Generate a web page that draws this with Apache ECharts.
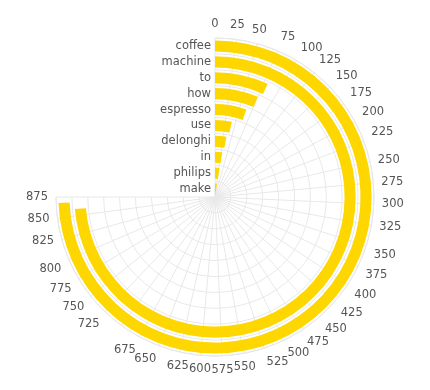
<!DOCTYPE html>
<html>
<head>
<meta charset="utf-8">
<script src="https://cdn.jsdelivr.net/npm/echarts@6/dist/echarts.min.js"></script>
<style>html,body{margin:0;padding:0;background:#fff;}#c{width:430px;height:390px;}</style>
</head>
<body>
<div id="c"></div>
<script>
const categories = ['coffee', 'machine', 'to', 'how', 'espresso', 'use', 'delonghi', 'in', 'philips', 'make'];
const counts = [868, 859, 81, 75, 64, 41, 35, 30, 29, 27];
const angleTickLabels = [0,25,50,75,100,125,150,175,200,225,250,275,300,325,350,375,400,425,450,475,500,525,550,575,600,625,650,675,725,750,775,800,825,850,875];

const chart = echarts.init(document.getElementById('c'), null, {renderer: 'canvas'});
chart.setOption({
  animation: false,
  polar: { center: [215, 197], radius: 159 },
  angleAxis: {
    type: 'value',
    min: 0,
    max: 875,
    interval: 25,
    startAngle: 90,
    endAngle: -180,
    clockwise: true,
    axisLine: { show: true, lineStyle: { color: '#e3e3e3' } },
    axisTick: { show: false },
    axisLabel: {
      color: '#555',
      fontSize: 11.5,
      fontFamily: 'DejaVu Sans, sans-serif',
      margin: 8,
      formatter: v => angleTickLabels.includes(v) ? String(v) : ''
    },
    splitLine: { show: true, lineStyle: { color: '#e8e8e8' } }
  },
  radiusAxis: {
    type: 'category',
    data: categories.slice().reverse(),
    axisLine: { show: false },
    axisTick: { show: false },
    axisLabel: {
      interval: 0,
      hideOverlap: false,
      color: '#555',
      fontSize: 11.5,
      fontFamily: 'DejaVu Sans, sans-serif',
      margin: 4
    },
    splitLine: { show: true, interval: 0, lineStyle: { color: '#e8e8e8' } },
    z: 10
  },
  series: [{
    type: 'bar',
    coordinateSystem: 'polar',
    data: counts.slice().reverse(),
    barCategoryGap: '30%',
    itemStyle: { color: '#FFD700' }
  }]
});
</script>
</body>
</html>
